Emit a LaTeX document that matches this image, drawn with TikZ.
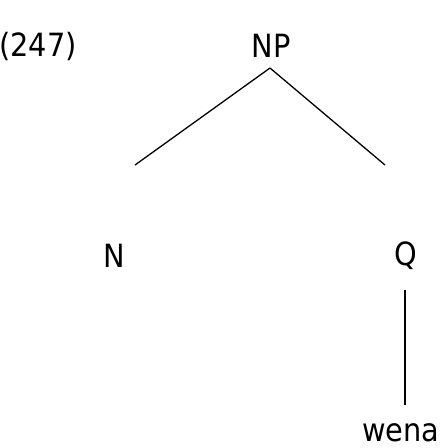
\documentclass[tikz,border=0pt]{standalone}
\usepackage{fontspec}
\setmainfont{DejaVu Sans Condensed}
\begin{document}
\begin{tikzpicture}[x=1pt,y=-1pt,
  label/.style={inner sep=0pt,font=\fontsize{32}{38}\selectfont},
  branch/.style={line width=1.3pt}]

\useasboundingbox (0,0) rectangle (444,448);

\node[label] (ex) at (38,46) {(247)};
\node[label] (np) at (271,46) {NP};
\node[label] (n) at (114,256) {N};
\node[label] (q) at (406,256) {Q};
\node[label,anchor=base] (wena) at (401,441) {wena};

\coordinate (top) at (270,68);
\coordinate (left) at (135,165);
\coordinate (right) at (385,165);
\coordinate (qtop) at (405,290);
\coordinate (qbot) at (405,405);

\draw[branch] (top) -- (left);
\draw[branch] (top) -- (right);
\draw[branch] (qtop) -- (qbot);
\end{tikzpicture}
\end{document}
